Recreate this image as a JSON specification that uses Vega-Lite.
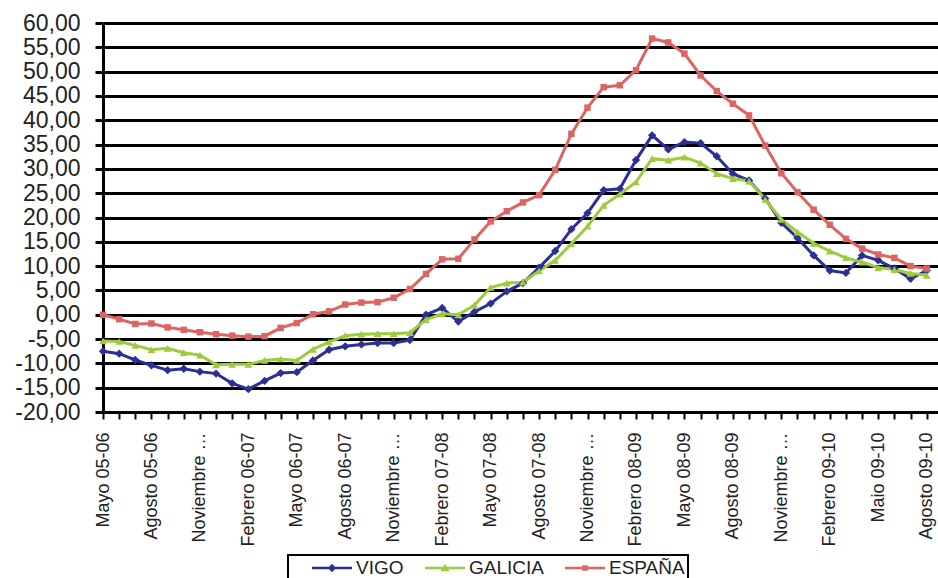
{
  "$schema": "https://vega.github.io/schema/vega-lite/v6.json",
  "width": 835,
  "height": 389,
  "autosize": {"type": "none"},
  "padding": {"left": 103, "top": 23, "right": 0, "bottom": 166},
  "background": "white",
  "config": {"view": {"stroke": null}, "font": "Liberation Sans"},
  "datasets": {
    "serie": [
      {"mes": "Mayo 05-06", "VIGO": -7.5, "GALICIA": -5.4, "ESPAÑA": 0.0},
      {"mes": "Junio 05-06", "VIGO": -8.0, "GALICIA": -5.5, "ESPAÑA": -0.9},
      {"mes": "Julio 05-06", "VIGO": -9.3, "GALICIA": -6.3, "ESPAÑA": -1.9},
      {"mes": "Agosto 05-06", "VIGO": -10.4, "GALICIA": -7.2, "ESPAÑA": -1.8},
      {"mes": "Septiembre 05-06", "VIGO": -11.4, "GALICIA": -6.9, "ESPAÑA": -2.6},
      {"mes": "Octubre 05-06", "VIGO": -11.1, "GALICIA": -7.8, "ESPAÑA": -3.1},
      {"mes": "Noviembre 05-06", "VIGO": -11.7, "GALICIA": -8.3, "ESPAÑA": -3.6},
      {"mes": "Diciembre 05-06", "VIGO": -12.1, "GALICIA": -10.3, "ESPAÑA": -4.0},
      {"mes": "Enero 06-07", "VIGO": -14.1, "GALICIA": -10.2, "ESPAÑA": -4.3},
      {"mes": "Febrero 06-07", "VIGO": -15.3, "GALICIA": -10.2, "ESPAÑA": -4.5},
      {"mes": "Marzo 06-07", "VIGO": -13.6, "GALICIA": -9.4, "ESPAÑA": -4.4},
      {"mes": "Abril 06-07", "VIGO": -12.0, "GALICIA": -9.1, "ESPAÑA": -2.7},
      {"mes": "Mayo 06-07", "VIGO": -11.8, "GALICIA": -9.4, "ESPAÑA": -1.7},
      {"mes": "Junio 06-07", "VIGO": -9.4, "GALICIA": -7.1, "ESPAÑA": 0.1},
      {"mes": "Julio 06-07", "VIGO": -7.2, "GALICIA": -5.6, "ESPAÑA": 0.7},
      {"mes": "Agosto 06-07", "VIGO": -6.5, "GALICIA": -4.3, "ESPAÑA": 2.1},
      {"mes": "Septiembre 06-07", "VIGO": -6.1, "GALICIA": -4.0, "ESPAÑA": 2.5},
      {"mes": "Octubre 06-07", "VIGO": -5.8, "GALICIA": -3.9, "ESPAÑA": 2.6},
      {"mes": "Noviembre 06-07", "VIGO": -5.8, "GALICIA": -3.9, "ESPAÑA": 3.5},
      {"mes": "Diciembre 06-07", "VIGO": -5.2, "GALICIA": -3.7, "ESPAÑA": 5.3},
      {"mes": "Enero 07-08", "VIGO": 0.0, "GALICIA": -1.0, "ESPAÑA": 8.4},
      {"mes": "Febrero 07-08", "VIGO": 1.4, "GALICIA": 0.2, "ESPAÑA": 11.4},
      {"mes": "Marzo 07-08", "VIGO": -1.4, "GALICIA": 0.0, "ESPAÑA": 11.5},
      {"mes": "Abril 07-08", "VIGO": 0.6, "GALICIA": 2.0, "ESPAÑA": 15.5},
      {"mes": "Mayo 07-08", "VIGO": 2.3, "GALICIA": 5.6, "ESPAÑA": 19.2},
      {"mes": "Junio 07-08", "VIGO": 4.8, "GALICIA": 6.5, "ESPAÑA": 21.3},
      {"mes": "Julio 07-08", "VIGO": 6.5, "GALICIA": 6.7, "ESPAÑA": 23.1},
      {"mes": "Agosto 07-08", "VIGO": 9.7, "GALICIA": 9.0, "ESPAÑA": 24.6},
      {"mes": "Septiembre 07-08", "VIGO": 13.1, "GALICIA": 11.2, "ESPAÑA": 29.8},
      {"mes": "Octubre 07-08", "VIGO": 17.6, "GALICIA": 14.6, "ESPAÑA": 37.2},
      {"mes": "Noviembre 07-08", "VIGO": 20.9, "GALICIA": 18.2, "ESPAÑA": 42.6},
      {"mes": "Diciembre 07-08", "VIGO": 25.6, "GALICIA": 22.5, "ESPAÑA": 46.8},
      {"mes": "Enero 08-09", "VIGO": 25.9, "GALICIA": 24.8, "ESPAÑA": 47.2},
      {"mes": "Febrero 08-09", "VIGO": 31.8, "GALICIA": 27.3, "ESPAÑA": 50.3},
      {"mes": "Marzo 08-09", "VIGO": 36.9, "GALICIA": 32.1, "ESPAÑA": 56.8},
      {"mes": "Abril 08-09", "VIGO": 34.0, "GALICIA": 31.8, "ESPAÑA": 56.0},
      {"mes": "Mayo 08-09", "VIGO": 35.5, "GALICIA": 32.4, "ESPAÑA": 53.7},
      {"mes": "Junio 08-09", "VIGO": 35.3, "GALICIA": 31.2, "ESPAÑA": 49.2},
      {"mes": "Julio 08-09", "VIGO": 32.6, "GALICIA": 29.0, "ESPAÑA": 46.0},
      {"mes": "Agosto 08-09", "VIGO": 29.0, "GALICIA": 28.0, "ESPAÑA": 43.4},
      {"mes": "Septiembre 08-09", "VIGO": 27.6, "GALICIA": 27.5, "ESPAÑA": 41.0},
      {"mes": "Octubre 08-09", "VIGO": 23.9, "GALICIA": 23.7, "ESPAÑA": 34.8},
      {"mes": "Noviembre 08-09", "VIGO": 18.9, "GALICIA": 19.6, "ESPAÑA": 29.1},
      {"mes": "Diciembre 08-09", "VIGO": 15.8, "GALICIA": 17.0, "ESPAÑA": 25.2},
      {"mes": "Enero 09-10", "VIGO": 12.2, "GALICIA": 14.7, "ESPAÑA": 21.6},
      {"mes": "Febrero 09-10", "VIGO": 9.1, "GALICIA": 13.1, "ESPAÑA": 18.5},
      {"mes": "Marzo 09-10", "VIGO": 8.6, "GALICIA": 11.7, "ESPAÑA": 15.6},
      {"mes": "Abril 09-10", "VIGO": 12.2, "GALICIA": 10.8, "ESPAÑA": 13.6},
      {"mes": "Maio 09-10", "VIGO": 11.2, "GALICIA": 9.7, "ESPAÑA": 12.4},
      {"mes": "Junio 09-10", "VIGO": 9.5, "GALICIA": 9.3, "ESPAÑA": 11.7},
      {"mes": "Julio 09-10", "VIGO": 7.4, "GALICIA": 8.5, "ESPAÑA": 10.0},
      {"mes": "Agosto 09-10", "VIGO": 9.1, "GALICIA": 8.1, "ESPAÑA": 9.5}
    ]
  },
  "data": {"name": "serie"},
  "transform": [
    {"fold": ["VIGO", "GALICIA", "ESPAÑA"], "as": ["serie", "valor"]}
  ],
  "encoding": {
    "x": {
      "field": "mes",
      "type": "ordinal",
      "sort": null,
      "scale": {"type": "point", "padding": 0.35, "align": 0},
      "axis": {
        "title": null,
        "labelAngle": -90,
        "labelAlign": "right",
        "labelBaseline": "middle",
        "labelFont": "Liberation Sans",
        "labelFontSize": 18,
        "labelColor": "#222222",
        "labelLimit": 117,
        "labelPadding": 13,
        "labelOverlap": false,
        "labelExpr": "test(/^(Mayo|Maio|Agosto|Noviembre|Febrero)/, datum.label) ? datum.label : ''",
        "tickSize": 7,
        "tickWidth": 2,
        "tickColor": "black",
        "domainColor": "black",
        "domainWidth": 3,
        "grid": false
      }
    },
    "y": {
      "field": "valor",
      "type": "quantitative",
      "scale": {"domain": [-20, 60], "nice": false, "zero": false},
      "axis": {
        "title": null,
        "values": [-20, -15, -10, -5, 0, 5, 10, 15, 20, 25, 30, 35, 40, 45, 50, 55, 60],
        "labelExpr": "(datum.value < 0 ? '-' : '') + replace(format(abs(datum.value), '.2f'), '.', ',')",
        "labelFont": "Liberation Sans",
        "labelFontSize": 23,
        "labelColor": "#222222",
        "labelPadding": 15,
        "labelOverlap": false,
        "tickSize": 8,
        "tickWidth": 3,
        "tickColor": "black",
        "grid": true,
        "gridColor": "black",
        "gridWidth": 3,
        "gridOpacity": 1,
        "domainColor": "black",
        "domainWidth": 3
      }
    },
    "color": {
      "field": "serie",
      "type": "nominal",
      "scale": {"domain": ["VIGO", "GALICIA", "ESPAÑA"], "range": ["#2B2F96", "#9CCB3C", "#DD6561"]},
      "legend": {
        "orient": "none",
        "legendX": 185,
        "legendY": 532,
        "direction": "horizontal",
        "title": null,
        "labelFont": "Liberation Sans",
        "labelFontSize": 19,
        "labelColor": "#222222",
        "symbolType": "M-1,-0.13H3V0.13H-1Z M1,-0.42L1.42,0L1,0.42L0.58,0Z",
        "symbolSize": 400,
        "symbolStrokeWidth": 0,
        "symbolOffset": 21,
        "labelOffset": 24,
        "columnPadding": 0,
        "padding": 3,
        "strokeColor": "black",
        "fillColor": "white",
        "encode": {
          "symbols": {"update": {
            "fill": {"scale": "color", "field": "value"},
            "opacity": {"value": 1},
            "shape": {"signal": "datum.value === 'GALICIA' ? 'M-1,-0.13H3V0.13H-1Z M1,-0.42L1.45,0.32L0.55,0.32Z' : datum.value === 'ESPAÑA' ? 'M-1,-0.13H3V0.13H-1Z M0.72,-0.28H1.28V0.28H0.72Z' : 'M-1,-0.13H3V0.13H-1Z M1,-0.42L1.42,0L1,0.42L0.58,0Z'"}
          }},
          "legend": {"update": {"strokeWidth": {"value": 2}}}
        }
      }
    }
  },
  "layer": [
    {"mark": {"type": "line", "strokeWidth": 3}},
    {
      "transform": [{"filter": "datum.serie === 'VIGO'"}],
      "mark": {"type": "point", "filled": true, "opacity": 1, "shape": "diamond", "size": 70}
    },
    {
      "transform": [{"filter": "datum.serie === 'GALICIA'"}],
      "mark": {"type": "point", "filled": true, "opacity": 1, "shape": "triangle-up", "size": 60}
    },
    {
      "transform": [{"filter": "datum.serie === 'ESPAÑA'"}],
      "mark": {"type": "point", "filled": true, "opacity": 1, "shape": "square", "size": 42}
    }
  ]
}
